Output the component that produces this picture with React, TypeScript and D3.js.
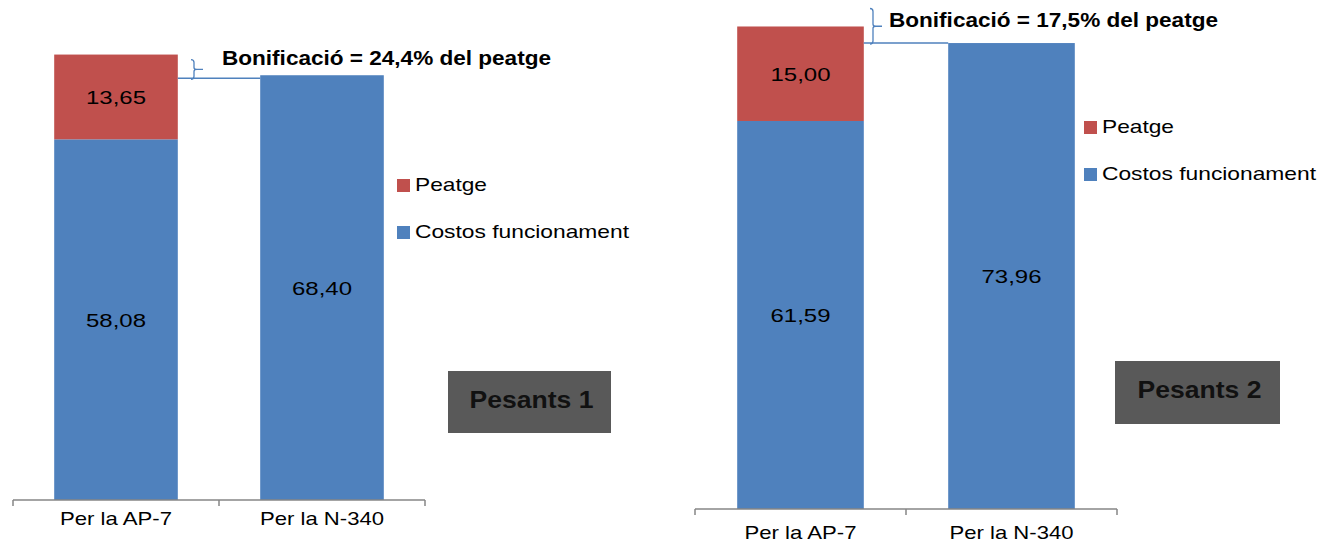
import React from "react";
import * as d3 from "d3";

const categories = ["Per la AP-7", "Per la N-340"];
const costs1 = [58.08, 68.4];
const toll1 = [13.65, 0];
const costs2 = [61.59, 73.96];
const toll2 = [15.0, 0];
const seriesNames = ["Peatge", "Costos funcionament"];
const titles = ["Pesants 1", "Pesants 2"];
const bonusLabels = ["Bonificació = 24,4% del peatge", "Bonificació = 17,5% del peatge"];

const BLUE = "#4F81BD";
const RED = "#C0504D";
const FONT = "'Liberation Sans', Arial, sans-serif";

const fmt = (v: number) => v.toFixed(2).replace(".", ",");

type PanelCfg = {
  costs: number[];
  toll: number[];
  x0: number;
  x1: number;
  bottom: number;
  pxPerUnit: number;
  catLabelDy: number;
  legendX: number;
  legendY: number;
  boxX: number;
  boxY: number;
  boxW: number;
  boxH: number;
  title: string;
  bonus: string;
  bonusLineDy: number;
  braceTopDy: number;
  braceX: number;
  textX: number;
  textY: number;
};

function Panel({ cfg }: { cfg: PanelCfg }) {
  const x = d3
    .scaleBand<string>()
    .domain(categories)
    .range([cfg.x0, cfg.x1])
    .paddingInner(0.4)
    .paddingOuter(0.2);
  const y = d3
    .scaleLinear()
    .domain([0, 80])
    .range([cfg.bottom, cfg.bottom - 80 * cfg.pxPerUnit]);
  const step = x.step();
  const bw = x.bandwidth();

  const ap = categories[0];
  const n3 = categories[1];
  const apTop = y(cfg.costs[0] + cfg.toll[0]);
  const redRight = (x(ap) as number) + bw;
  const nLeft = x(n3) as number;
  const lineY = y(cfg.costs[1]) + cfg.bonusLineDy;
  const braceTop = apTop + cfg.braceTopDy;
  const braceBottom = lineY + 1;
  const braceMid = (braceTop + braceBottom) / 2;
  const bx = cfg.braceX;

  return (
    <g>
      {categories.map((c, i) => {
        const bx0 = x(c) as number;
        const cTop = y(cfg.costs[i]);
        const tTop = y(cfg.costs[i] + cfg.toll[i]);
        return (
          <g key={c}>
            <rect x={bx0} y={cTop} width={bw} height={cfg.bottom - cTop} fill={BLUE} />
            <text
              x={bx0 + bw / 2}
              y={(cTop + cfg.bottom) / 2 + 7}
              textAnchor="middle"
              fontSize={19}
              fontFamily={FONT}
              fill="#000"
              textLength={60}
              lengthAdjust="spacingAndGlyphs"
            >
              {fmt(cfg.costs[i])}
            </text>
            {cfg.toll[i] > 0 && (
              <g>
                <rect x={bx0} y={tTop} width={bw} height={cTop - tTop} fill={RED} />
                <text
                  x={bx0 + bw / 2}
                  y={(tTop + cTop) / 2 + 7}
                  textAnchor="middle"
                  fontSize={19}
                  fontFamily={FONT}
                  fill="#000"
                  textLength={60}
                  lengthAdjust="spacingAndGlyphs"
                >
                  {fmt(cfg.toll[i])}
                </text>
              </g>
            )}
            <text
              x={bx0 + bw / 2}
              y={cfg.bottom + cfg.catLabelDy}
              textAnchor="middle"
              fontSize={19}
              fontFamily={FONT}
              fill="#000"
              textLength={c === ap ? 112 : 124}
              lengthAdjust="spacingAndGlyphs"
            >
              {c}
            </text>
          </g>
        );
      })}
      {/* axis */}
      <line x1={cfg.x0} x2={cfg.x1} y1={cfg.bottom} y2={cfg.bottom} stroke="#868686" strokeWidth={1.5} />
      {[0, 1, 2].map((k) => (
        <line
          key={k}
          x1={cfg.x0 + k * step}
          x2={cfg.x0 + k * step}
          y1={cfg.bottom}
          y2={cfg.bottom + 6}
          stroke="#868686"
          strokeWidth={1.5}
        />
      ))}
      {/* bonus annotation */}
      <line x1={redRight} x2={nLeft} y1={lineY} y2={lineY} stroke={BLUE} strokeWidth={1.5} />
      <path
        d={`M${bx - 3},${braceTop} Q${bx},${braceTop} ${bx},${braceTop + 3} L${bx},${braceMid - 2} Q${bx},${braceMid} ${bx + 3},${braceMid} L${bx + 9},${braceMid} M${bx + 3},${braceMid} Q${bx},${braceMid} ${bx},${braceMid + 2} L${bx},${braceBottom - 3} Q${bx},${braceBottom} ${bx - 3},${braceBottom}`}
        fill="none"
        stroke={BLUE}
        strokeWidth={1.3}
      />
      <text
        x={cfg.textX}
        y={cfg.textY}
        fontSize={20}
        fontWeight="bold"
        fontFamily={FONT}
        fill="#000"
        textLength={329}
        lengthAdjust="spacingAndGlyphs"
      >
        {cfg.bonus}
      </text>
      {/* legend */}
      {seriesNames.map((s, i) => (
        <g key={s} transform={`translate(${cfg.legendX},${cfg.legendY + i * 47})`}>
          <rect x={0} y={-12} width={13} height={13} fill={i === 0 ? RED : BLUE} />
          <text
            x={18}
            y={0}
            fontSize={19}
            fontFamily={FONT}
            fill="#000"
            textLength={i === 0 ? 72 : 214}
            lengthAdjust="spacingAndGlyphs"
          >
            {s}
          </text>
        </g>
      ))}
      {/* title box */}
      <rect x={cfg.boxX} y={cfg.boxY} width={cfg.boxW} height={cfg.boxH} fill="#595959" />
      <text
        x={cfg.boxX + cfg.boxW / 2 + 2}
        y={cfg.boxY + 37}
        textAnchor="middle"
        fontSize={24}
        fontWeight="bold"
        fontFamily={FONT}
        fill="#111"
        textLength={124}
        lengthAdjust="spacingAndGlyphs"
      >
        {cfg.title}
      </text>
    </g>
  );
}

export default function App() {
  const left: PanelCfg = {
    costs: costs1,
    toll: toll1,
    x0: 13,
    x1: 425,
    bottom: 500,
    pxPerUnit: 6.21,
    catLabelDy: 25,
    legendX: 397,
    legendY: 191,
    boxX: 448,
    boxY: 371,
    boxW: 163,
    boxH: 62,
    title: titles[0],
    bonus: bonusLabels[0],
    bonusLineDy: 3,
    braceTopDy: 5,
    braceX: 194,
    textX: 222,
    textY: 65,
  };
  const right: PanelCfg = {
    costs: costs2,
    toll: toll2,
    x0: 695,
    x1: 1117,
    bottom: 509,
    pxPerUnit: 6.3,
    catLabelDy: 30,
    legendX: 1084,
    legendY: 133,
    boxX: 1115,
    boxY: 361,
    boxW: 165,
    boxH: 63,
    title: titles[1],
    bonus: bonusLabels[1],
    bonusLineDy: 0,
    braceTopDy: -18,
    braceX: 873,
    textX: 889,
    textY: 27,
  };
  return (
    <svg width={1321} height={544} style={{ position: "absolute", left: 0, top: 0, background: "#fff" }}>
      <rect width={1321} height={544} fill="#fff" />
      <Panel cfg={left} />
      <Panel cfg={right} />
    </svg>
  );
}
